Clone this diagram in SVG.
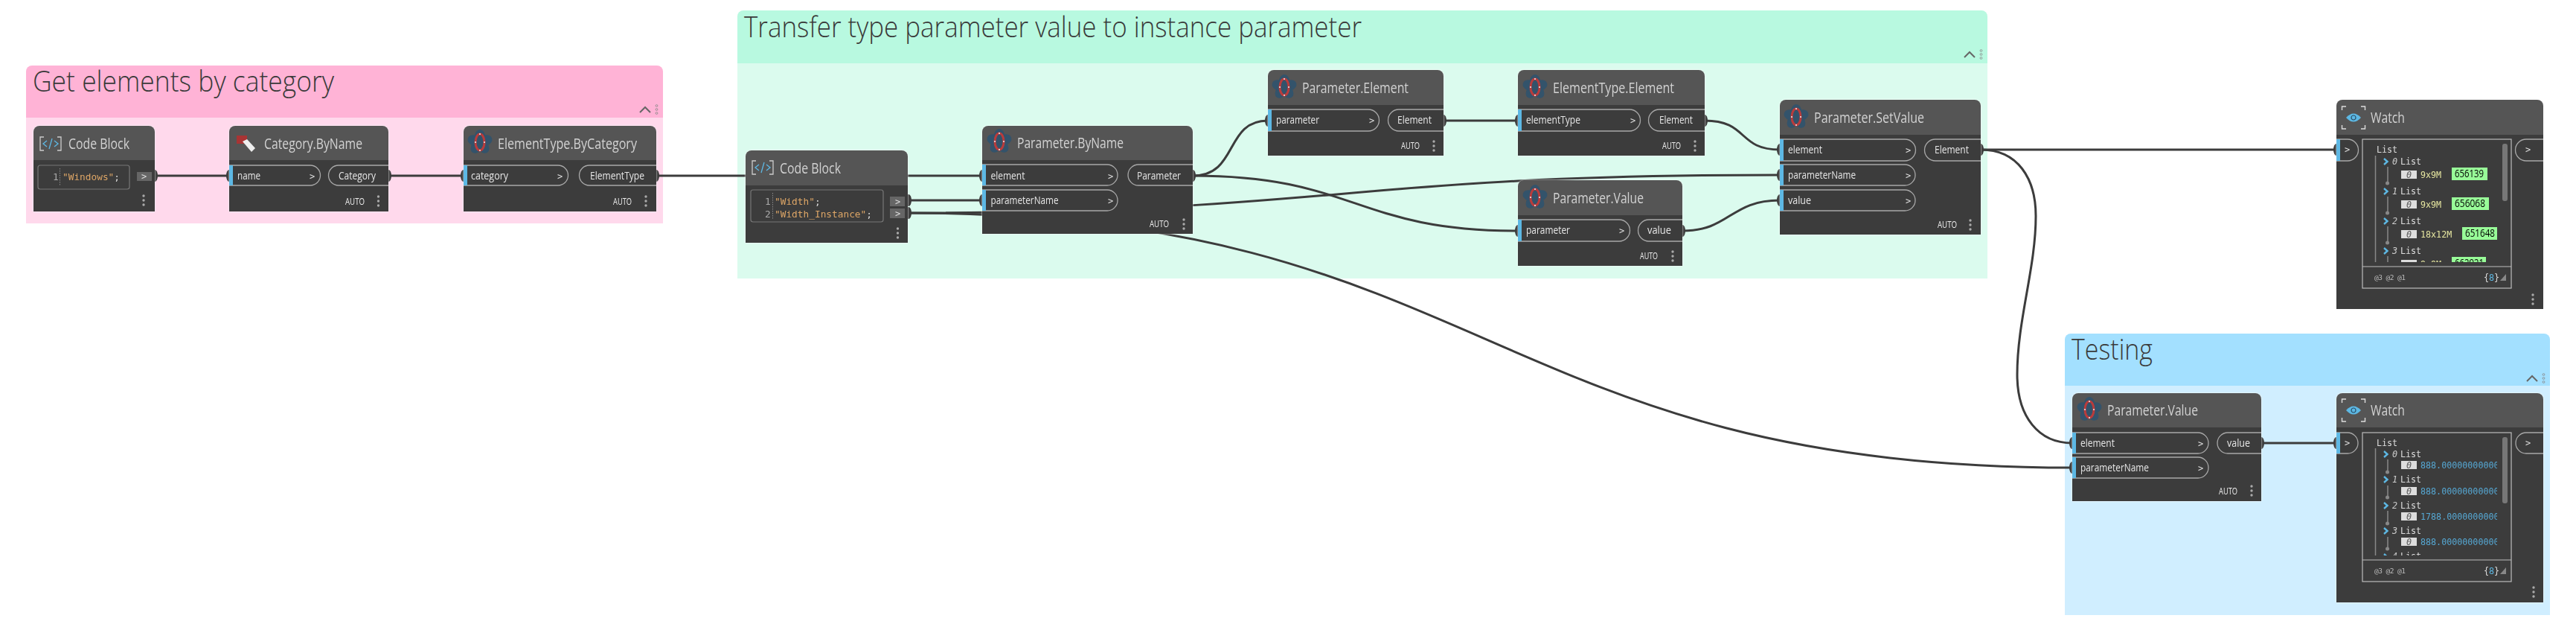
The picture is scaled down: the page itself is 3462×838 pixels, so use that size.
<svg xmlns="http://www.w3.org/2000/svg" width="3462" height="838" viewBox="0 0 3462 838">
<style>
text{font-family:"Open Sans","Liberation Sans",sans-serif}
g[id^="node-"]{filter:drop-shadow(0 0 .8px #fff)}
.gt{font-size:39px;font-weight:300;fill:#3a3a3a}
.hd{fill:#555}.bd{fill:#3c3c3c}
.nt{font-size:20px;fill:#d2d2d2}
.pt{font-size:15px;fill:#e6e6e6}
.au{font-size:12.500px;fill:#eee}
.ch{font-family:"DejaVu Sans Mono",monospace;font-size:12px;fill:#ddd}
.pill{fill:none;stroke:#a8a8a8;stroke-width:1.3}
.bar{fill:#5db8e4}
.w{fill:none;stroke:#3c3c3c;stroke-width:3}
.nub{fill:#3c3c3c}
.dot{fill:#aaa}
.mono{font-family:"DejaVu Sans Mono",monospace;font-size:11.700px;fill:#ddd}
.idx{font-family:"DejaVu Sans Mono",monospace;font-size:11.700px;font-style:italic;fill:#ccc}
.idb{font-family:"DejaVu Sans Mono",monospace;font-size:11.700px;font-style:italic;fill:#555}
.val{font-family:"DejaVu Sans Mono",monospace;font-size:11.700px;fill:#e6e6a0}
.num{font-family:"DejaVu Sans Mono",monospace;font-size:11.700px;fill:#56a8d4}
.ft{font-family:"DejaVu Sans Mono",monospace;font-size:9.500px;fill:#bbb}
.cd{font-family:"DejaVu Sans Mono",monospace;font-size:12.800px;fill:#dca566}
.ln{font-family:"DejaVu Sans Mono",monospace;font-size:12.800px;fill:#aaa}
.box{fill:none;stroke:#bdbdbd;stroke-width:1.2}
.cbox{fill:none;stroke:#777;stroke-width:1.2}
.btn{fill:#666}
.sb{fill:#777}
.tr{fill:none;stroke:#888;stroke-width:1.5}
.chv{fill:none;stroke:#5db8e4;stroke-width:2.4}
.lab{fill:#98fb98}
.lt{font-size:14px;fill:#000}
</style>
<defs>
<g id="flower">
<g fill="#33536b"><ellipse cy="-8" rx="7" ry="9"/><ellipse cy="-8" rx="7" ry="9" transform="rotate(72)"/><ellipse cy="-8" rx="7" ry="9" transform="rotate(144)"/><ellipse cy="-8" rx="7" ry="9" transform="rotate(216)"/><ellipse cy="-8" rx="7" ry="9" transform="rotate(288)"/></g>
<ellipse rx="6" ry="11" fill="none" stroke="#b83c3c" stroke-width="3"/>
<circle cy="-11" r=".9" fill="#fff"/><circle cy="11" r=".9" fill="#fff"/><circle cx="-6" r=".9" fill="#fff"/><circle cx="6" r=".9" fill="#fff"/>
</g>
<g id="codeicon" fill="none">
<path d="M-9 -9H-14V9H-9M9 -9H14V9H9" stroke="#ccc" stroke-width="1.3"/>
<path d="M-5 -4L-10 0L-5 4M5 -4L10 0L5 4M2 -7L-2 7" stroke="#5db8e4" stroke-width="1.3"/>
</g>
<g id="watchicon">
<path d="M-10 -15H-15.500V-10M10 -15H15.500V-10M-15.500 10V15H-10M15.500 10V15H10" fill="none" stroke="#ddd" stroke-width="1.4"/>
<path d="M-10 0Q0 -11 10 0Q0 11 -10 0Z" fill="#5db8e4"/>
<circle r="3" fill="none" stroke="#2a4f66" stroke-width="1.2"/>
</g>
<g id="vdots" class="dot"><circle cy="-6" r="1.700"/><circle r="1.700"/><circle cy="6" r="1.700"/></g>
<g id="collapse"><path d="M-7 4L0 -3L7 4" fill="none" stroke="#666" stroke-width="2"/><g fill="none" stroke="#888" stroke-width=".8"><circle cx="15.500" cy="-5" r="1.400"/><circle cx="15.500" cy="0" r="1.400"/><circle cx="15.500" cy="5" r="1.400"/></g></g>
<clipPath id="c1"><rect x="3180" y="190" width="180" height="162"/></clipPath>
<clipPath id="c2"><rect x="3180" y="584" width="176" height="162"/></clipPath>
</defs>
<rect width="3462" height="838" fill="#fff"/>

<g id="group-get-elements">
<path d="M35 158V96a8 8 0 0 1 8-8H883a8 8 0 0 1 8 8V158Z" fill="#ffb3d6"/>
<rect x="35" y="158" width="856" height="142" fill="#ffd9ec"/>
<text class="gt" x="44" y="123" textLength="405" lengthAdjust="spacingAndGlyphs">Get elements by category</text>
<use href="#collapse" x="867" y="147"/>
</g>
<g id="group-transfer">
<path d="M991 85V22a8 8 0 0 1 8-8H2663a8 8 0 0 1 8 8V85Z" fill="#b8f9e0"/>
<rect x="991" y="85" width="1680" height="289" fill="#dbfbee"/>
<text class="gt" x="1000" y="50" textLength="830" lengthAdjust="spacingAndGlyphs">Transfer type parameter value to instance parameter</text>
<use href="#collapse" x="2647" y="73"/>
</g>
<g id="group-testing">
<path d="M2775 518V456a8 8 0 0 1 8-8H3419a8 8 0 0 1 8 8V518Z" fill="#a3e0ff"/>
<rect x="2775" y="518" width="652" height="308" fill="#d0eeff"/>
<text class="gt" x="2784" y="483" textLength="109" lengthAdjust="spacingAndGlyphs">Testing</text>
<use href="#collapse" x="3403" y="508"/>
</g>

<g id="connectors">
<path class="w" d="M208 236H308"/>
<path class="w" d="M522 236H623"/>
<path class="w" d="M882 236H1320"/>
<path class="w" d="M1217 269H1320"/>
<path class="w" d="M1217 286C1800 286 1800 235 2392 235"/>
<path class="w" d="M1217 286C2000 286 2000 628 2785 628"/>
<path class="w" d="M1603 236C1665 236 1645 162 1704 162"/>
<path class="w" d="M1603 236C1821 236 1821 310 2040 310"/>
<path class="w" d="M1940 162H2040"/>
<path class="w" d="M2291 162C2350 162 2335 201 2392 201"/>
<path class="w" d="M2261 310C2325 310 2325 269 2392 269"/>
<path class="w" d="M2662 201H3140"/>
<path class="w" d="M2662 201C2712 201 2736 240 2736 290C2736 360 2711 430 2711 503C2711 560 2740 595 2785 595"/>
<path class="w" d="M3039 595H3140"/>
<g class="nub">
<ellipse cx="208" cy="236" rx="4" ry="8"/><ellipse cx="308" cy="236" rx="4" ry="8"/><ellipse cx="522" cy="236" rx="4" ry="8"/><ellipse cx="623" cy="236" rx="4" ry="8"/><ellipse cx="882" cy="236" rx="4" ry="8"/>
<ellipse cx="1320" cy="236" rx="4" ry="8"/><ellipse cx="1320" cy="269" rx="4" ry="8"/><ellipse cx="1221" cy="269" rx="4" ry="8"/><ellipse cx="1221" cy="286" rx="4" ry="8"/><ellipse cx="1603" cy="236" rx="4" ry="8"/>
<ellipse cx="1704" cy="162" rx="4" ry="8"/><ellipse cx="1940" cy="162" rx="4" ry="8"/><ellipse cx="2040" cy="162" rx="4" ry="8"/><ellipse cx="2291" cy="162" rx="4" ry="8"/>
<ellipse cx="2040" cy="310" rx="4" ry="8"/><ellipse cx="2261" cy="310" rx="4" ry="8"/>
<ellipse cx="2392" cy="201" rx="4" ry="8"/><ellipse cx="2392" cy="235" rx="4" ry="8"/><ellipse cx="2392" cy="269" rx="4" ry="8"/><ellipse cx="2662" cy="201" rx="4" ry="8"/>
<ellipse cx="3140" cy="201" rx="4" ry="8"/><ellipse cx="2785" cy="595" rx="4" ry="8"/><ellipse cx="2785" cy="628" rx="4" ry="8"/><ellipse cx="3039" cy="595" rx="4" ry="8"/><ellipse cx="3140" cy="595" rx="4" ry="8"/>
</g>
</g>

<g id="node-codeblock-1">
<rect x="45" y="169" width="163" height="60" rx="8" class="hd"/><rect x="45" y="215" width="163" height="69" class="bd"/>
<use href="#codeicon" x="68" y="193"/>
<text class="nt" x="92" y="200" textLength="82" lengthAdjust="spacingAndGlyphs">Code Block</text>
<rect x="51" y="222" width="123" height="32" rx="3" class="cbox"/>
<path d="M80.500 226V250" stroke="#888" stroke-dasharray="1.500 1.500"/>
<text class="ln" x="71" y="242">1</text>
<text class="cd" x="84" y="242" textLength="77">"Windows"<tspan fill="#ddd">;</tspan></text>
<rect x="184" y="231" width="20" height="12" class="btn"/><text class="ch" x="190" y="241">&gt;</text>
<use href="#vdots" x="193" y="269"/>
</g>
<g id="node-category-byname">
<rect x="308" y="169" width="214" height="60" rx="8" class="hd"/><rect x="308" y="215" width="214" height="69" class="bd"/>
<rect x="318" y="182" width="14" height="11" fill="#a83434"/>
<path d="M326 190L332 187L343 199L338 204Z" fill="#eee"/>
<text class="nt" x="355" y="200" textLength="132" lengthAdjust="spacingAndGlyphs">Category.ByName</text>
<path class="pill" d="M308 222H417a13.500 13.500 0 0 1 0 27H308"/><rect x="308" y="222" width="5" height="27" class="bar"/>
<text class="pt" x="319" y="241" textLength="31" lengthAdjust="spacingAndGlyphs">name</text><text class="ch" x="416" y="241">&gt;</text>
<path class="pill" d="M522 222H455a13.500 13.500 0 0 0 0 27H522"/>
<text class="pt" x="455" y="241" textLength="50" lengthAdjust="spacingAndGlyphs">Category</text>
<text class="au" x="464" y="275" textLength="26" lengthAdjust="spacingAndGlyphs">AUTO</text><use href="#vdots" x="508.500" y="270"/>
</g>
<g id="node-elementtype-bycategory">
<rect x="623" y="169" width="259" height="60" rx="8" class="hd"/><rect x="623" y="215" width="259" height="69" class="bd"/>
<use href="#flower" x="645" y="191"/>
<text class="nt" x="669" y="200" textLength="187" lengthAdjust="spacingAndGlyphs">ElementType.ByCategory</text>
<path class="pill" d="M623 222H750a13.500 13.500 0 0 1 0 27H623"/><rect x="623" y="222" width="5" height="27" class="bar"/>
<text class="pt" x="633" y="241" textLength="50" lengthAdjust="spacingAndGlyphs">category</text><text class="ch" x="749" y="241">&gt;</text>
<path class="pill" d="M882 222H792a13.500 13.500 0 0 0 0 27H882"/>
<text class="pt" x="793" y="241" textLength="73" lengthAdjust="spacingAndGlyphs">ElementType</text>
<text class="au" x="824" y="275" textLength="25" lengthAdjust="spacingAndGlyphs">AUTO</text><use href="#vdots" x="868" y="270"/>
</g>

<g id="node-codeblock-2">
<rect x="1002" y="202" width="218" height="60" rx="8" class="hd"/><rect x="1002" y="249" width="218" height="77" class="bd"/>
<use href="#codeicon" x="1025" y="225"/>
<text class="nt" x="1048" y="233" textLength="82" lengthAdjust="spacingAndGlyphs">Code Block</text>
<rect x="1009" y="255" width="178" height="43" rx="3" class="cbox"/>
<path d="M1038.500 259V294" stroke="#888" stroke-dasharray="1.500 1.500"/>
<text class="ln" x="1028" y="275">1</text><text class="ln" x="1028" y="292">2</text>
<text class="cd" x="1041" y="275">"Width"<tspan fill="#ddd">;</tspan></text>
<text class="cd" x="1041" y="292">"Width_Instance"<tspan fill="#ddd">;</tspan></text>
<rect x="1196" y="264" width="20" height="13" class="btn"/><text class="ch" x="1203" y="275">&gt;</text>
<rect x="1196" y="280" width="20" height="13" class="btn"/><text class="ch" x="1203" y="291">&gt;</text>
<use href="#vdots" x="1206.500" y="313"/>
</g>
<g id="node-parameter-byname">
<rect x="1320" y="169" width="283" height="60" rx="8" class="hd"/><rect x="1320" y="215" width="283" height="99" class="bd"/>
<use href="#flower" x="1343" y="190"/>
<text class="nt" x="1367" y="199" textLength="143" lengthAdjust="spacingAndGlyphs">Parameter.ByName</text>
<path class="pill" d="M1320 221H1488a14 14 0 0 1 0 28H1320"/><rect x="1320" y="221" width="5" height="28" class="bar"/>
<text class="pt" x="1331.500" y="241" textLength="46" lengthAdjust="spacingAndGlyphs">element</text><text class="ch" x="1489" y="241">&gt;</text>
<path class="pill" d="M1320 255H1488a14 14 0 0 1 0 28H1320"/><rect x="1320" y="255" width="5" height="28" class="bar"/>
<text class="pt" x="1331.500" y="274" textLength="91" lengthAdjust="spacingAndGlyphs">parameterName</text><text class="ch" x="1489" y="274">&gt;</text>
<path class="pill" d="M1603 221H1530a14 14 0 0 0 0 28H1603"/>
<text class="pt" x="1528" y="241" textLength="59" lengthAdjust="spacingAndGlyphs">Parameter</text>
<text class="au" x="1545" y="305" textLength="26" lengthAdjust="spacingAndGlyphs">AUTO</text><use href="#vdots" x="1591" y="301"/>
</g>
<g id="node-parameter-element">
<rect x="1704" y="94" width="236" height="60" rx="8" class="hd"/><rect x="1704" y="141" width="236" height="68" class="bd"/>
<use href="#flower" x="1726" y="117"/>
<text class="nt" x="1750" y="125" textLength="143" lengthAdjust="spacingAndGlyphs">Parameter.Element</text>
<path class="pill" d="M1704 147H1839a14 14 0 0 1 0 29H1704"/><rect x="1704" y="147" width="5" height="29" class="bar"/>
<text class="pt" x="1715" y="166" textLength="58" lengthAdjust="spacingAndGlyphs">parameter</text><text class="ch" x="1840" y="166">&gt;</text>
<path class="pill" d="M1940 147H1880a14 14 0 0 0 0 29H1940"/>
<text class="pt" x="1878" y="166" textLength="46" lengthAdjust="spacingAndGlyphs">Element</text>
<text class="au" x="1883" y="200" textLength="25" lengthAdjust="spacingAndGlyphs">AUTO</text><use href="#vdots" x="1927" y="196"/>
</g>
<g id="node-elementtype-element">
<rect x="2040" y="94" width="251" height="60" rx="8" class="hd"/><rect x="2040" y="141" width="251" height="68" class="bd"/>
<use href="#flower" x="2063" y="117"/>
<text class="nt" x="2087" y="125" textLength="163" lengthAdjust="spacingAndGlyphs">ElementType.Element</text>
<path class="pill" d="M2040 147H2190a14 14 0 0 1 0 29H2040"/><rect x="2040" y="147" width="5" height="29" class="bar"/>
<text class="pt" x="2051" y="166" textLength="73" lengthAdjust="spacingAndGlyphs">elementType</text><text class="ch" x="2191" y="166">&gt;</text>
<path class="pill" d="M2291 147H2230a14 14 0 0 0 0 29H2291"/>
<text class="pt" x="2230" y="166" textLength="45" lengthAdjust="spacingAndGlyphs">Element</text>
<text class="au" x="2234" y="200" textLength="25" lengthAdjust="spacingAndGlyphs">AUTO</text><use href="#vdots" x="2278" y="196"/>
</g>
<g id="node-parameter-value">
<rect x="2040" y="242" width="221" height="60" rx="8" class="hd"/><rect x="2040" y="289" width="221" height="68" class="bd"/>
<use href="#flower" x="2063" y="265"/>
<text class="nt" x="2087" y="273" textLength="122" lengthAdjust="spacingAndGlyphs">Parameter.Value</text>
<path class="pill" d="M2040 295H2176a14 14 0 0 1 0 29H2040"/><rect x="2040" y="295" width="5" height="29" class="bar"/>
<text class="pt" x="2051" y="314" textLength="59" lengthAdjust="spacingAndGlyphs">parameter</text><text class="ch" x="2176" y="314">&gt;</text>
<path class="pill" d="M2261 295H2216a14 14 0 0 0 0 29H2261"/>
<text class="pt" x="2214" y="314" textLength="32" lengthAdjust="spacingAndGlyphs">value</text>
<text class="au" x="2204" y="348" textLength="24" lengthAdjust="spacingAndGlyphs">AUTO</text><use href="#vdots" x="2248" y="344"/>
</g>
<g id="node-parameter-setvalue">
<rect x="2392" y="134" width="270" height="60" rx="8" class="hd"/><rect x="2392" y="181" width="270" height="134" class="bd"/>
<use href="#flower" x="2414" y="157"/>
<text class="nt" x="2438" y="165" textLength="148" lengthAdjust="spacingAndGlyphs">Parameter.SetValue</text>
<path class="pill" d="M2392 187H2560a14 14 0 0 1 0 29H2392"/><rect x="2392" y="187" width="5" height="29" class="bar"/>
<text class="pt" x="2403" y="206" textLength="46" lengthAdjust="spacingAndGlyphs">element</text><text class="ch" x="2561" y="206">&gt;</text>
<path class="pill" d="M2392 221H2560a14 14 0 0 1 0 28H2392"/><rect x="2392" y="221" width="5" height="28" class="bar"/>
<text class="pt" x="2403" y="240" textLength="91" lengthAdjust="spacingAndGlyphs">parameterName</text><text class="ch" x="2561" y="240">&gt;</text>
<path class="pill" d="M2392 255H2560a14 14 0 0 1 0 28H2392"/><rect x="2392" y="255" width="5" height="28" class="bar"/>
<text class="pt" x="2403" y="274" textLength="31" lengthAdjust="spacingAndGlyphs">value</text><text class="ch" x="2561" y="274">&gt;</text>
<path class="pill" d="M2662 187H2601a14 14 0 0 0 0 29H2662"/>
<text class="pt" x="2600" y="206" textLength="46" lengthAdjust="spacingAndGlyphs">Element</text>
<text class="au" x="2604" y="306" textLength="26" lengthAdjust="spacingAndGlyphs">AUTO</text><use href="#vdots" x="2648" y="302"/>
</g>

<g id="node-watch-1">
<rect x="3140" y="134" width="278" height="60" rx="8" class="hd"/><rect x="3140" y="181" width="278" height="234" class="bd"/>
<use href="#watchicon" x="3163" y="158"/>
<text class="nt" x="3186" y="165" textLength="46" lengthAdjust="spacingAndGlyphs">Watch</text>
<path class="pill" d="M3140 187H3155a14 14 0 0 1 0 29H3140"/><rect x="3140" y="187" width="5" height="29" class="bar"/>
<text class="ch" x="3151" y="205">&gt;</text>
<path class="pill" d="M3418 187H3395a14 14 0 0 0 0 29H3418"/><text class="ch" x="3394" y="205">&gt;</text>
<rect x="3175" y="187" width="200" height="200" class="box"/><path class="box" d="M3175 358H3375"/>
<text class="mono" x="3194" y="205">List</text>
<path class="tr" d="M3192.500 209V352"/>
<rect x="3363" y="193" width="7" height="77" rx="3" class="sb"/>
<g clip-path="url(#c1)">
<g><path class="chv" d="M3204 213L3208.500 217L3204 221"/><text class="idx" x="3215" y="221">0</text><text class="mono" x="3226" y="221">List</text><path class="tr" d="M3209 224V246"/><circle cx="3208.500" cy="246" r="2.500" fill="#888"/><rect x="3227" y="229" width="21" height="11" fill="#ddd"/><text class="idb" x="3234" y="239">0</text><text class="val" x="3253" y="239">9x9M</text><rect x="3295" y="225" width="48" height="17" class="lab"/><text class="lt" x="3299" y="238" textLength="39" lengthAdjust="spacingAndGlyphs">656139</text></g>
<g><path class="chv" d="M3204 253L3208.500 257L3204 261"/><text class="idx" x="3215" y="261">1</text><text class="mono" x="3226" y="261">List</text><path class="tr" d="M3209 264V286"/><circle cx="3208.500" cy="286" r="2.500" fill="#888"/><rect x="3227" y="269" width="21" height="11" fill="#ddd"/><text class="idb" x="3234" y="279">0</text><text class="val" x="3253" y="279">9x9M</text><rect x="3295" y="265" width="50" height="17" class="lab"/><text class="lt" x="3299" y="278" textLength="41" lengthAdjust="spacingAndGlyphs">656068</text></g>
<g><path class="chv" d="M3204 293L3208.500 297L3204 301"/><text class="idx" x="3215" y="301">2</text><text class="mono" x="3226" y="301">List</text><path class="tr" d="M3209 304V326"/><circle cx="3208.500" cy="326" r="2.500" fill="#888"/><rect x="3227" y="309" width="21" height="11" fill="#ddd"/><text class="idb" x="3234" y="319">0</text><text class="val" x="3253" y="319">18x12M</text><rect x="3309" y="305" width="47" height="17" class="lab"/><text class="lt" x="3313" y="318" textLength="40" lengthAdjust="spacingAndGlyphs">651648</text></g>
<g><path class="chv" d="M3204 333L3208.500 337L3204 341"/><text class="idx" x="3215" y="341">3</text><text class="mono" x="3226" y="341">List</text><path class="tr" d="M3209 344V352"/><rect x="3227" y="349" width="21" height="11" fill="#ddd"/><text class="val" x="3253" y="359">9x9M</text><rect x="3295" y="345" width="46" height="17" class="lab"/><text class="lt" x="3299" y="358" textLength="39" lengthAdjust="spacingAndGlyphs">662921</text></g>
</g>
<text class="ft" x="3191" y="376" textLength="42">@3 @2 @1</text>
<text class="mono" x="3338" y="377" font-size="13">{<tspan fill="#5db8e4">8</tspan>}</text>
<path d="M3368 368V377H3360Z" fill="#888"/>
<use href="#vdots" x="3404" y="402"/>
</g>

<g id="node-parameter-value-testing">
<rect x="2785" y="528" width="254" height="60" rx="8" class="hd"/><rect x="2785" y="574" width="254" height="99" class="bd"/>
<use href="#flower" x="2808" y="550"/>
<text class="nt" x="2832" y="558" textLength="122" lengthAdjust="spacingAndGlyphs">Parameter.Value</text>
<path class="pill" d="M2785 581H2954a14 14 0 0 1 0 28H2785"/><rect x="2785" y="581" width="5" height="28" class="bar"/>
<text class="pt" x="2796" y="600" textLength="46" lengthAdjust="spacingAndGlyphs">element</text><text class="ch" x="2954" y="600">&gt;</text>
<path class="pill" d="M2785 614H2954a14 14 0 0 1 0 28H2785"/><rect x="2785" y="614" width="5" height="28" class="bar"/>
<text class="pt" x="2796" y="633" textLength="92" lengthAdjust="spacingAndGlyphs">parameterName</text><text class="ch" x="2954" y="633">&gt;</text>
<path class="pill" d="M3039 581H2994a14 14 0 0 0 0 28H3039"/>
<text class="pt" x="2993" y="600" textLength="31" lengthAdjust="spacingAndGlyphs">value</text>
<text class="au" x="2982" y="664" textLength="25" lengthAdjust="spacingAndGlyphs">AUTO</text><use href="#vdots" x="3026" y="659"/>
</g>
<g id="node-watch-2">
<rect x="3140" y="528" width="278" height="60" rx="8" class="hd"/><rect x="3140" y="574" width="278" height="235" class="bd"/>
<use href="#watchicon" x="3163" y="551"/>
<text class="nt" x="3186" y="558" textLength="46" lengthAdjust="spacingAndGlyphs">Watch</text>
<path class="pill" d="M3140 581H3155a14 14 0 0 1 0 28H3140"/><rect x="3140" y="581" width="5" height="28" class="bar"/>
<text class="ch" x="3151" y="599">&gt;</text>
<path class="pill" d="M3418 581H3395a14 14 0 0 0 0 28H3418"/><text class="ch" x="3394" y="599">&gt;</text>
<rect x="3175" y="581" width="200" height="200" class="box"/><path class="box" d="M3175 752H3375"/>
<text class="mono" x="3194" y="599">List</text>
<path class="tr" d="M3192.500 602V746"/>
<rect x="3363" y="587" width="7" height="89" rx="3" class="sb"/>
<g clip-path="url(#c2)">
<g><path class="chv" d="M3204 606L3208.500 610L3204 614"/><text class="idx" x="3215" y="614">0</text><text class="mono" x="3226" y="614">List</text><path class="tr" d="M3209 617V634"/><circle cx="3208.500" cy="634" r="2.500" fill="#888"/><rect x="3227" y="619" width="21" height="11" fill="#ddd"/><text class="idb" x="3234" y="629">0</text><text class="num" x="3253" y="629">888.0000000000000</text></g>
<g><path class="chv" d="M3204 640L3208.500 644L3204 648"/><text class="idx" x="3215" y="648">1</text><text class="mono" x="3226" y="648">List</text><path class="tr" d="M3209 652V668"/><circle cx="3208.500" cy="668" r="2.500" fill="#888"/><rect x="3227" y="654" width="21" height="11" fill="#ddd"/><text class="idb" x="3234" y="664">0</text><text class="num" x="3253" y="664">888.0000000000000</text></g>
<g><path class="chv" d="M3204 675L3208.500 679L3204 683"/><text class="idx" x="3215" y="683">2</text><text class="mono" x="3226" y="683">List</text><path class="tr" d="M3209 686V703"/><circle cx="3208.500" cy="703" r="2.500" fill="#888"/><rect x="3227" y="688" width="21" height="11" fill="#ddd"/><text class="idb" x="3234" y="698">0</text><text class="num" x="3253" y="698">1788.000000000000</text></g>
<g><path class="chv" d="M3204 709L3208.500 713L3204 717"/><text class="idx" x="3215" y="717">3</text><text class="mono" x="3226" y="717">List</text><path class="tr" d="M3209 721V737"/><circle cx="3208.500" cy="737" r="2.500" fill="#888"/><rect x="3227" y="722" width="21" height="11" fill="#ddd"/><text class="idb" x="3234" y="732">0</text><text class="num" x="3253" y="732">888.0000000000000</text></g>
<g><path class="chv" d="M3204 744L3208.500 748L3204 752"/><text class="idx" x="3215" y="751">4</text><text class="mono" x="3226" y="751">List</text></g>
</g>
<text class="ft" x="3191" y="770" textLength="42">@3 @2 @1</text>
<text class="mono" x="3338" y="771" font-size="13">{<tspan fill="#5db8e4">8</tspan>}</text>
<path d="M3368 762V771H3360Z" fill="#888"/>
<use href="#vdots" x="3405" y="795"/>
</g>
</svg>
